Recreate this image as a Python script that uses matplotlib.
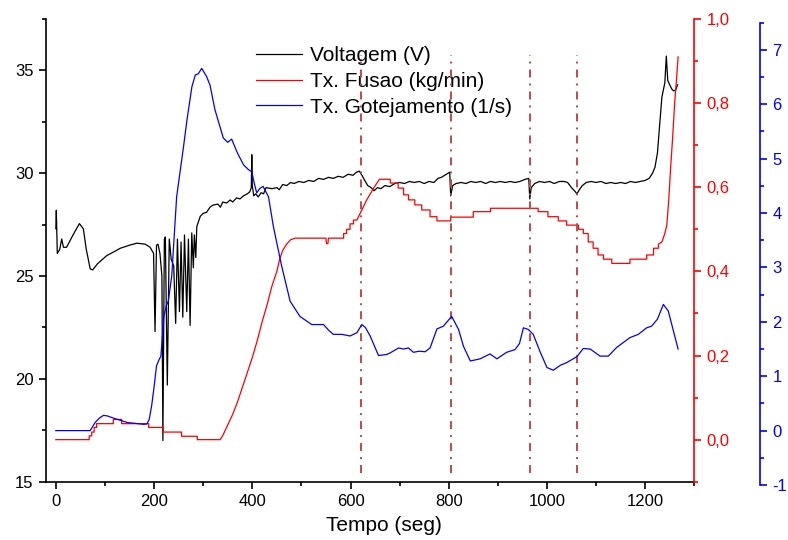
import matplotlib
matplotlib.use('Agg')
import matplotlib.pyplot as plt
from matplotlib.ticker import MultipleLocator, FixedLocator, FixedFormatter

plt.rcParams['font.family'] = ['Liberation Sans', 'DejaVu Sans']
plt.rcParams['axes.unicode_minus'] = False

# Voltagem (V) - eixo esquerdo
t_volt = [0, 1, 3, 8, 12, 15.5, 22, 35, 48, 56, 62, 70, 75, 85, 104, 120, 131, 150,
          165, 182, 192, 199, 202, 205, 208, 212, 216, 218, 221, 223, 227, 231, 235,
          240, 244, 247.6, 251.7, 255, 258.5, 262, 266.6, 270, 273.4, 276.8, 280, 282,
          285, 287, 294, 300, 307, 314, 320, 330, 335, 340, 348, 355, 360, 368, 375,
          382, 390, 395, 398, 399, 400, 403, 407, 412, 418, 423, 428, 440, 450, 455,
          462, 470, 478, 485, 495, 505, 515, 525, 535, 545, 555, 565, 575, 585, 595,
          605, 612, 618, 622, 628, 635, 642, 648, 655, 662, 670, 680, 690, 700, 710,
          720, 730, 740, 750, 760, 770, 778, 785, 795, 802, 804, 808, 815, 825, 835,
          845, 855, 865, 875, 885, 895, 905, 915, 925, 935, 945, 955, 963, 965, 968,
          975, 985, 995, 1005, 1015, 1025, 1035, 1042, 1050, 1056, 1061, 1066, 1072,
          1080, 1090, 1100, 1110, 1120, 1130, 1140, 1150, 1160, 1170, 1180, 1190, 1200,
          1208, 1215, 1220, 1225, 1230, 1234, 1240, 1243, 1246, 1250, 1254, 1258,
          1262, 1266]
volt = [27.3, 28.2, 26.1, 26.3, 26.8, 26.4, 26.4, 27.0, 27.55, 27.3, 26.3, 25.35, 25.3,
        25.6, 26.0, 26.2, 26.35, 26.5, 26.6, 26.55, 26.4, 26.1, 22.3, 26.5, 26.55, 26.1,
        25.0, 17.0, 26.8, 26.9, 19.7, 26.8, 25.8, 25.5, 22.7, 26.8, 23.27, 26.65, 23.0,
        27.0, 23.27, 26.8, 22.6, 27.1, 25.4, 27.0, 25.9, 27.4, 27.9, 28.05, 28.1, 28.35,
        28.45, 28.5, 28.35, 28.6, 28.55, 28.7, 28.6, 28.8, 28.75, 28.9, 29.0, 29.1, 29.3,
        30.9, 29.4, 28.9, 29.0, 28.85, 29.05, 29.0, 29.3, 29.25, 29.3, 29.2, 29.45, 29.4,
        29.55, 29.5, 29.6, 29.55, 29.65, 29.6, 29.75, 29.7, 29.8, 29.75, 29.85, 29.8,
        29.95, 29.9, 30.05, 30.1, 29.95, 29.7, 29.4, 29.3, 29.15, 29.3, 29.25, 29.4,
        29.35, 29.5, 29.55, 29.5, 29.6, 29.55, 29.6, 29.5, 29.6, 29.55, 29.75, 29.8,
        29.95, 30.05, 28.9, 29.4, 29.5, 29.55, 29.5, 29.6, 29.55, 29.6, 29.5, 29.6,
        29.55, 29.6, 29.55, 29.6, 29.55, 29.6, 29.7, 29.75, 28.75, 29.3, 29.5, 29.6,
        29.55, 29.6, 29.5, 29.6, 29.6, 29.55, 29.3, 29.15, 29.0, 29.2, 29.4, 29.55, 29.6,
        29.55, 29.6, 29.5, 29.55, 29.5, 29.55, 29.5, 29.6, 29.55, 29.6, 29.65, 29.75,
        30.0, 30.3, 31.0, 32.5, 33.7, 34.4, 35.7, 34.5, 34.3, 34.1, 34.0, 34.05, 34.3]

# Tx. Fusao (kg/min) - eixo vermelho, pares (tempo, valor)
fusao_pts = [(0, 0.0), (68, 0.0), (68, 0.009), (73, 0.009), (73, 0.018), (78, 0.018),
             (78, 0.029), (83, 0.029), (83, 0.038), (117, 0.038), (117, 0.048),
             (134, 0.048), (134, 0.038), (189, 0.038), (189, 0.029), (219, 0.029),
             (219, 0.018), (256, 0.018), (256, 0.008), (288, 0.008), (288, 0.0),
             (334.5, 0.0), (340, 0.01), (350, 0.035), (360, 0.06), (370, 0.09),
             (380, 0.125), (390, 0.16), (400, 0.195), (410, 0.235), (420, 0.28),
             (430, 0.32), (440, 0.365), (450, 0.4), (456, 0.43), (462, 0.45),
             (470, 0.465), (478, 0.475), (487, 0.479), (550, 0.479), (551, 0.466),
             (554, 0.466), (555, 0.479), (586, 0.479), (586, 0.49), (592, 0.49),
             (592, 0.5), (599, 0.5), (599, 0.513), (606, 0.513), (606, 0.522),
             (613, 0.522), (623, 0.546), (633, 0.57), (647, 0.598), (659, 0.619),
             (681, 0.619), (681, 0.61), (697, 0.61), (697, 0.598), (708, 0.598),
             (708, 0.582), (718, 0.582), (718, 0.57), (731, 0.57), (731, 0.558),
             (745, 0.558), (745, 0.546), (762, 0.546), (762, 0.53), (776, 0.53),
             (776, 0.52), (804, 0.52), (804, 0.529), (850, 0.529), (850, 0.542),
             (885, 0.542), (885, 0.55), (982, 0.55), (982, 0.542), (1002, 0.542),
             (1002, 0.53), (1023, 0.53), (1023, 0.52), (1040, 0.52), (1040, 0.51),
             (1064, 0.51), (1064, 0.5), (1074, 0.5), (1074, 0.49), (1084, 0.49),
             (1084, 0.47), (1094, 0.47), (1094, 0.455), (1104, 0.455), (1104, 0.439),
             (1115, 0.439), (1115, 0.429), (1132, 0.429), (1132, 0.419), (1169, 0.419),
             (1169, 0.429), (1203, 0.429), (1203, 0.439), (1217, 0.439), (1217, 0.455),
             (1227, 0.455), (1227, 0.465), (1234, 0.47), (1240, 0.49), (1244, 0.51),
             (1248, 0.57), (1252, 0.65), (1256, 0.72), (1260, 0.8), (1264, 0.86),
             (1267, 0.91)]

# Tx. Gotejamento (1/s) - eixo azul
t_got = [0, 70, 80, 90, 97, 105, 114, 131, 145, 165, 178, 185, 190, 195, 200, 205, 210,
         214, 220, 225, 229, 236, 246, 260, 267, 277, 284, 290, 297, 307, 314, 324, 341,
         350, 358, 370, 382, 392, 399, 404, 409, 415, 422, 433, 443, 460, 477, 497, 521,
         545, 555, 565, 582, 599, 613, 623, 630, 640, 657, 674, 681, 698, 708, 718, 728,
         740, 752, 762, 776, 789, 806, 820, 830, 844, 864, 884, 898, 918, 935, 944, 952,
         962, 972, 986, 1000, 1013, 1027, 1040, 1061, 1074, 1088, 1108, 1125, 1142,
         1169, 1186, 1203, 1213, 1225, 1237, 1247, 1257, 1267]
gotej = [0.0, 0.0, 0.15, 0.24, 0.28, 0.27, 0.24, 0.19, 0.15, 0.13, 0.116, 0.12, 0.2,
         0.45, 0.8, 1.19, 1.3, 1.37, 2.1, 2.3, 2.38, 2.84, 4.3, 5.22, 5.71, 6.32, 6.54,
         6.56, 6.66, 6.51, 6.35, 5.9, 5.38, 5.3, 5.36, 5.1, 4.89, 4.8, 4.76, 4.55, 4.37,
         4.45, 4.49, 4.3, 3.75, 3.02, 2.38, 2.1, 1.95, 1.95, 1.85, 1.77, 1.77, 1.74, 1.8,
         1.95, 1.9, 1.74, 1.38, 1.4, 1.43, 1.52, 1.5, 1.52, 1.44, 1.46, 1.45, 1.52, 1.87,
         1.92, 2.1, 1.86, 1.55, 1.28, 1.32, 1.41, 1.32, 1.44, 1.49, 1.6, 1.89, 1.86, 1.77,
         1.45, 1.16, 1.11, 1.2, 1.25, 1.36, 1.51, 1.5, 1.37, 1.37, 1.53, 1.71, 1.77, 1.89,
         1.92, 2.05, 2.32, 2.2, 1.85, 1.5]

# linhas verticais de referencia
marcas = [622, 805, 966, 1061]

x_ticks = [0, 200, 400, 600, 800, 1000, 1200]
volt_ticks = [15, 20, 25, 30, 35]
fus_ticks = [0.0, 0.2, 0.4, 0.6, 0.8, 1.0]
fus_labels = ['0,0', '0,2', '0,4', '0,6', '0,8', '1,0']
got_ticks = [-1, 0, 1, 2, 3, 4, 5, 6, 7]
got_labels = ['-1', '0', '1', '2', '3', '4', '5', '6', '7']

t_fus = [p[0] for p in fusao_pts]
fusao = [p[1] for p in fusao_pts]

fig = plt.figure(figsize=(7.88, 5.40), dpi=100)
ax = fig.add_axes([46 / 788, 1 - 481.7 / 540, 648.3 / 788, 462.7 / 540])
ax_f = ax.twinx()
ax_g = fig.add_axes([46 / 788, 1 - 485 / 540, 648.3 / 788, 462.3 / 540])
ax_g.patch.set_visible(False)

tick_kw = dict(which='major', length=5, width=1.2, labelsize=12, pad=4)
minor_kw = dict(which='minor', length=3, width=1.2)

# eixo principal
l1, = ax.plot(t_volt, volt, color='black', lw=0.9, label='Voltagem (V)')
ax.set_xlim(-20, 1300)
ax.set_ylim(15, 37.5)
ax.xaxis.set_major_locator(FixedLocator(x_ticks))
ax.xaxis.set_minor_locator(MultipleLocator(100))
ax.yaxis.set_major_locator(FixedLocator(volt_ticks))
ax.yaxis.set_minor_locator(MultipleLocator(2.5))
ax.tick_params(**tick_kw)
ax.tick_params(**minor_kw)
ax.spines['top'].set_visible(False)
ax.spines['right'].set_visible(False)
for s in ('left', 'bottom'):
    ax.spines[s].set_linewidth(1.2)
ax.set_xlabel('Tempo (seg)', fontsize=15)
ax.xaxis.set_label_coords((384 - 46) / 648.3, -0.074)

# eixo vermelho
l2, = ax_f.plot(t_fus, fusao, color='red', lw=0.9, label='Tx. Fusao (kg/min)')
ax_f.set_ylim(-0.1, 1.0)
ax_f.yaxis.set_major_locator(FixedLocator(fus_ticks))
ax_f.yaxis.set_major_formatter(FixedFormatter(fus_labels))
ax_f.yaxis.set_minor_locator(MultipleLocator(0.1))
ax_f.tick_params(axis='y', colors='red', **tick_kw)
ax_f.tick_params(axis='y', colors='red', **minor_kw)
ax_f.spines['right'].set_color('red')
ax_f.spines['right'].set_linewidth(1.2)
for s in ('top', 'left', 'bottom'):
    ax_f.spines[s].set_visible(False)

for m in marcas:
    ax_f.axvline(m, ymin=0.019, ymax=0.922, color='#c04a4a', lw=1.4,
                 linestyle=(0, (4.1, 3.1, 1.0, 3.1)))

# eixo azul
l3, = ax_g.plot(t_got, gotej, color='blue', lw=0.9, label='Tx. Gotejamento (1/s)')
ax_g.set_xlim(-20, 1300)
ax_g.set_ylim(-1, 7.5)
ax_g.xaxis.set_visible(False)
ax_g.yaxis.tick_right()
ax_g.yaxis.set_major_locator(FixedLocator(got_ticks))
ax_g.yaxis.set_major_formatter(FixedFormatter(got_labels))
ax_g.yaxis.set_minor_locator(MultipleLocator(0.5))
ax_g.tick_params(axis='y', colors='blue', **tick_kw)
ax_g.tick_params(axis='y', colors='blue', **minor_kw)
for s in ('top', 'left', 'bottom'):
    ax_g.spines[s].set_visible(False)
ax_g.spines['right'].set_position(('axes', 1 + 65.7 / 648.3))
ax_g.spines['right'].set_color('blue')
ax_g.spines['right'].set_linewidth(1.2)

ax.legend([l1, l2, l3], [l1.get_label(), l2.get_label(), l3.get_label()],
          loc='upper left', bbox_to_anchor=(256 / 788, 1 - 46 / 540),
          bbox_transform=fig.transFigure, frameon=False, fontsize=15,
          handlelength=2.2, handletextpad=0.4, labelspacing=0.33,
          borderpad=0, borderaxespad=0)

fig.savefig('out.png', dpi=100)
